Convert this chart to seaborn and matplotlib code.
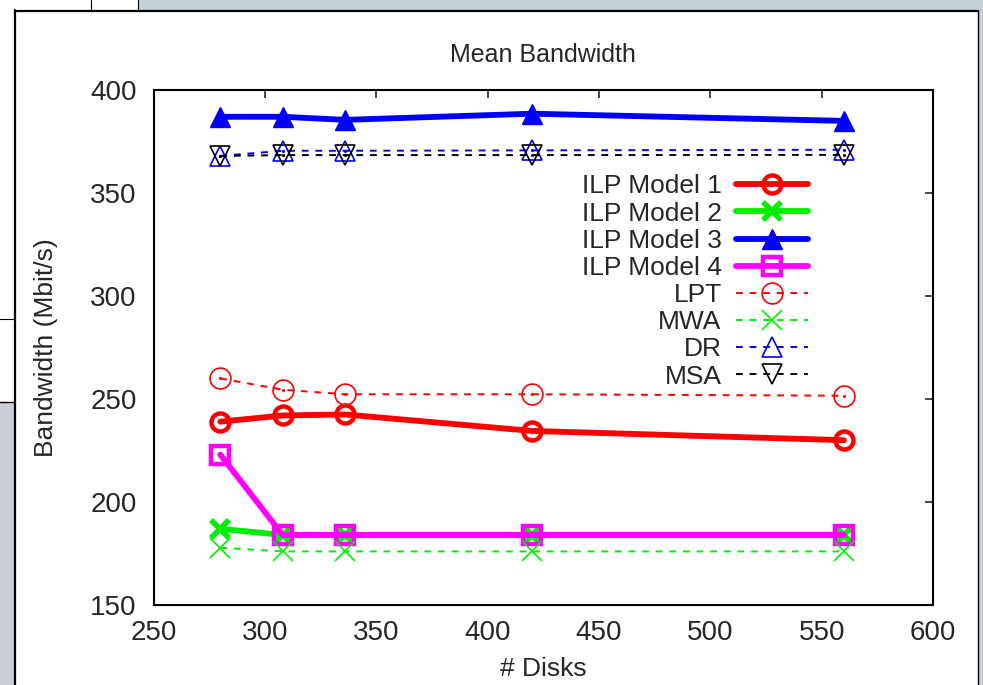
import matplotlib
matplotlib.use("Agg")
import matplotlib.pyplot as plt
from matplotlib.patches import Rectangle
from matplotlib.lines import Line2D
import seaborn as sns

# data
disks = [280, 308, 336, 420, 560]
ilp1 = [239, 242, 242.5, 234.5, 230]
ilp2 = [187, 184, 184, 184, 184]
ilp3 = [387, 387, 385.5, 388.5, 385]
ilp4 = [223, 184, 184, 184, 184]
lpt = [260, 254.5, 252.3, 252.3, 251.6]
mwa = [177.8, 176, 176, 176, 176]
dr = [368, 370.5, 370.5, 370.7, 371]
msa = [368, 368.4, 368.4, 368.4, 368.5]

x_ticks = [250, 300, 350, 400, 450, 500, 550, 600]
y_ticks = [150, 200, 250, 300, 350, 400]

sns.set_style("white")
plt.rcParams['font.family'] = ['Liberation Sans', 'DejaVu Sans']

W, H = 983, 685
fig = plt.figure(figsize=(W / 100, H / 100), dpi=100)

# window frame of the screenshot
def px_rect(x0, y0, x1, y1, **kw):
    fig.add_artist(Rectangle((x0 / W, 1 - y1 / H), (x1 - x0) / W, (y1 - y0) / H,
                             transform=fig.transFigure, **kw))

def px_line(xs, ys, **kw):
    fig.add_artist(Line2D([x / W for x in xs], [1 - y / H for y in ys],
                          transform=fig.transFigure, **kw))

grey = '#c6d1d7'
px_rect(138, 0, W, 10, color=grey, lw=0)
px_rect(978, 0, W, H, color=grey, lw=0)
px_rect(0, 402, 15, H, color=grey, lw=0)
px_line([15.5, 15.5], [10, H], color='black', lw=1.6)
px_line([15.5, 977.5], [10.5, 10.5], color='black', lw=1.6)
px_line([977.5, 977.5], [10, H], color='black', lw=1.0)
px_line([91, 91], [0, 10], color='black', lw=0.8)
px_line([137.5, 137.5], [0, 10], color='black', lw=0.8)
px_line([0, 15], [319, 319], color='black', lw=0.8)
px_line([0, 15], [402, 402], color='black', lw=1.0)

ax = fig.add_axes([153.5 / W, 1 - 605 / H, (933 - 153.5) / W, (605 - 90) / H])

thick = dict(lw=4.2, markersize=13, markeredgewidth=3.2)
thin = dict(lw=1.4, markersize=15, markeredgewidth=1.2, dashes=(3.5, 3.5))

red, green, blue, mag = '#ff0000', '#00ee00', '#0000ff', '#ff00ff'

sns.lineplot(x=disks, y=ilp1, ax=ax, color=red, marker='o', mfc='none', mec=red,
             label='ILP Model 1', **thick)
sns.lineplot(x=disks, y=ilp2, ax=ax, color=green, marker='x', mec=green,
             label='ILP Model 2', lw=4.2, markersize=13, markeredgewidth=4)
sns.lineplot(x=disks, y=ilp3, ax=ax, color=blue, marker='^', mec=blue,
             label='ILP Model 3', lw=4.2, markersize=15, markeredgewidth=1)
sns.lineplot(x=disks, y=ilp4, ax=ax, color=mag, marker='s', mfc='none', mec=mag,
             label='ILP Model 4', **thick)
sns.lineplot(x=disks, y=lpt, ax=ax, color=red, marker='o', mfc='none', mec=red,
             label='LPT', **thin)
sns.lineplot(x=disks, y=mwa, ax=ax, color=green, marker='x', mec=green,
             label='MWA', **thin)
sns.lineplot(x=disks, y=dr, ax=ax, color=blue, marker='^', mfc='none', mec=blue,
             label='DR', **thin)
sns.lineplot(x=disks, y=msa, ax=ax, color='black', marker='v', mfc='none',
             mec='black', label='MSA', **thin)

# gnuplot-style centre dots
for ys, c in [(ilp1, red), (lpt, red), (dr, blue), (msa, 'black')]:
    ax.plot(disks, ys, ls='none', marker='.', ms=2.5, color=c)

ax.set_xlim(250, 600)
ax.set_ylim(150, 400)
ax.set_xticks(x_ticks)
ax.set_yticks(y_ticks)
ax.tick_params(direction='in', length=6, width=1.2, top=True, right=True,
               labelsize=20)
ax.tick_params(axis='y', pad=12)
ax.tick_params(axis='x', pad=11)
for s in ax.spines.values():
    s.set_linewidth(1.5)
    s.set_color('black')

ax.set_title('Mean Bandwidth', fontsize=18, pad=20)
ax.set_xlabel('# Disks', fontsize=19)
ax.set_ylabel('Bandwidth (Mbit/s)', fontsize=19)
ax.xaxis.set_label_coords(0.5, -0.10)
ax.yaxis.set_label_coords(-0.123, 0.5)

ax.legend(loc='upper right', bbox_to_anchor=(0.839, 0.836), frameon=False,
          markerfirst=False, fontsize=19, labelspacing=0.12, handlelength=2.7,
          handletextpad=0.55, borderpad=0, borderaxespad=0)

fig.savefig('out.png', dpi=100)
